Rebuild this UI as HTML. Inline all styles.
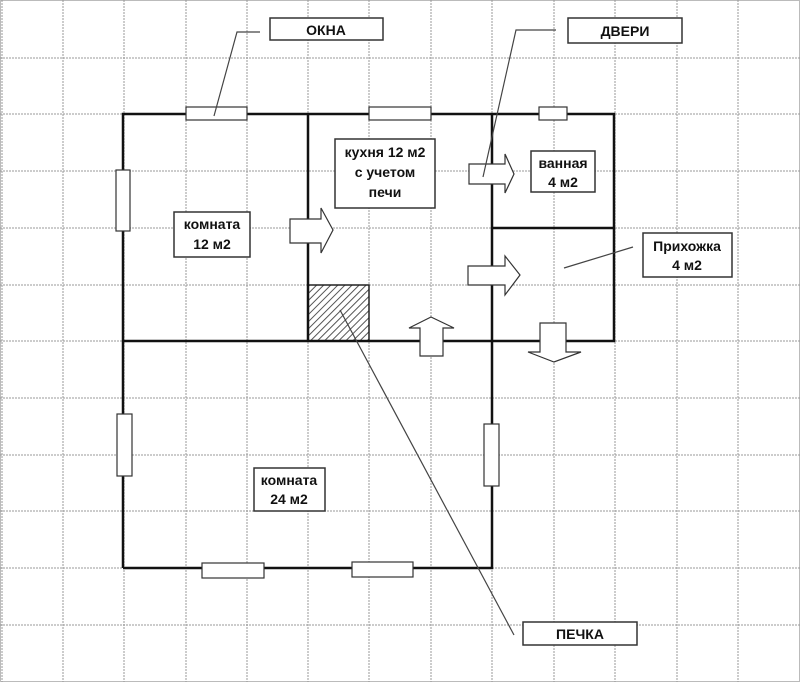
<!DOCTYPE html>
<html><head><meta charset="utf-8"><style>
html,body{margin:0;padding:0;background:#fff;}
svg{display:block;}
text{font-family:"Liberation Sans",Arial,sans-serif;font-weight:bold;font-size:14px;fill:#111;}
</style></head><body>
<svg width="800" height="682" viewBox="0 0 800 682" xmlns="http://www.w3.org/2000/svg">
<defs>
<pattern id="h" width="5" height="5" patternUnits="userSpaceOnUse" patternTransform="rotate(45)">
<rect width="5" height="5" fill="#fff"/><line x1="0" y1="0" x2="0" y2="5" stroke="#555" stroke-width="2"/>
</pattern>
</defs>
<rect x="0.5" y="0.5" width="799" height="681" fill="#fff" stroke="#bbb"/>
<g stroke="#999" stroke-width="1" stroke-dasharray="2,1">
<line x1="2" y1="0" x2="2" y2="682"/><line x1="63" y1="0" x2="63" y2="682"/><line x1="124" y1="0" x2="124" y2="682"/><line x1="186" y1="0" x2="186" y2="682"/><line x1="247" y1="0" x2="247" y2="682"/><line x1="308" y1="0" x2="308" y2="682"/><line x1="369" y1="0" x2="369" y2="682"/><line x1="431" y1="0" x2="431" y2="682"/><line x1="492" y1="0" x2="492" y2="682"/><line x1="554" y1="0" x2="554" y2="682"/><line x1="615" y1="0" x2="615" y2="682"/><line x1="677" y1="0" x2="677" y2="682"/><line x1="738" y1="0" x2="738" y2="682"/>
<line x1="0" y1="58" x2="800" y2="58"/><line x1="0" y1="114" x2="800" y2="114"/><line x1="0" y1="171" x2="800" y2="171"/><line x1="0" y1="228" x2="800" y2="228"/><line x1="0" y1="285" x2="800" y2="285"/><line x1="0" y1="341" x2="800" y2="341"/><line x1="0" y1="398" x2="800" y2="398"/><line x1="0" y1="455" x2="800" y2="455"/><line x1="0" y1="511" x2="800" y2="511"/><line x1="0" y1="568" x2="800" y2="568"/><line x1="0" y1="625" x2="800" y2="625"/>
</g>
<rect x="308" y="285" width="61" height="56" fill="url(#h)" stroke="#222" stroke-width="1.5"/>
<g stroke="#111" stroke-width="2.5" fill="none">
<polyline points="123,568 123,114 614,114 614,341 123,341"/>
<polyline points="123,568 492,568 492,114"/>
<line x1="308" y1="114" x2="308" y2="341"/>
<line x1="492" y1="228" x2="614" y2="228"/>
</g>
<g fill="#fff" stroke="#333" stroke-width="1.2">
<rect x="186" y="107" width="61" height="13"/>
<rect x="369" y="107" width="62" height="13"/>
<rect x="539" y="107" width="28" height="13"/>
<rect x="116" y="170" width="14" height="61"/>
<rect x="117" y="414" width="15" height="62"/>
<rect x="484" y="424" width="15" height="62"/>
<rect x="202" y="563" width="62" height="15"/>
<rect x="352" y="562" width="61" height="15"/>
<polygon points="290,219 321,219 321,208 333,230 321,253 321,243 290,243"/>
<polygon points="469,164 505,164 505,154 514,174 505,193 505,184 469,184"/>
<polygon points="468,266 505,266 505,256 520,275 505,295 505,285 468,285"/>
<polygon points="420,356 420,328 409,328 431,317 454,328 443,328 443,356"/>
<polygon points="540,323 566,323 566,352 581,352 554,362 528,352 540,352"/>
</g>
<g stroke="#444" stroke-width="1.2" fill="none">
<polyline points="260,32 237,32 214,116"/>
<polyline points="556,30 516,30 483,177"/>
<line x1="633" y1="247" x2="564" y2="268"/>
<line x1="514" y1="635" x2="340" y2="310"/>
</g>
<g fill="#fff" stroke="#333" stroke-width="1.5">
<rect x="270" y="18" width="113" height="22"/>
<rect x="568" y="18" width="114" height="25"/>
<rect x="335" y="139" width="100" height="69"/>
<rect x="531" y="151" width="64" height="41"/>
<rect x="643" y="233" width="89" height="44"/>
<rect x="174" y="212" width="76" height="45"/>
<rect x="254" y="468" width="71" height="43"/>
<rect x="523" y="622" width="114" height="23"/>
</g>
<text x="326" y="35" text-anchor="middle">ОКНА</text>
<text x="625" y="36" text-anchor="middle">ДВЕРИ</text>
<text x="385" y="157" text-anchor="middle">кухня 12 м2</text>
<text x="385" y="177" text-anchor="middle">с учетом</text>
<text x="385" y="197" text-anchor="middle">печи</text>
<text x="563" y="168" text-anchor="middle">ванная</text>
<text x="563" y="187" text-anchor="middle">4 м2</text>
<text x="687" y="251" text-anchor="middle">Прихожка</text>
<text x="687" y="270" text-anchor="middle">4 м2</text>
<text x="212" y="229" text-anchor="middle">комната</text>
<text x="212" y="249" text-anchor="middle">12 м2</text>
<text x="289" y="485" text-anchor="middle">комната</text>
<text x="289" y="504" text-anchor="middle">24 м2</text>
<text x="580" y="639" text-anchor="middle">ПЕЧКА</text>
</svg>
</body></html>
